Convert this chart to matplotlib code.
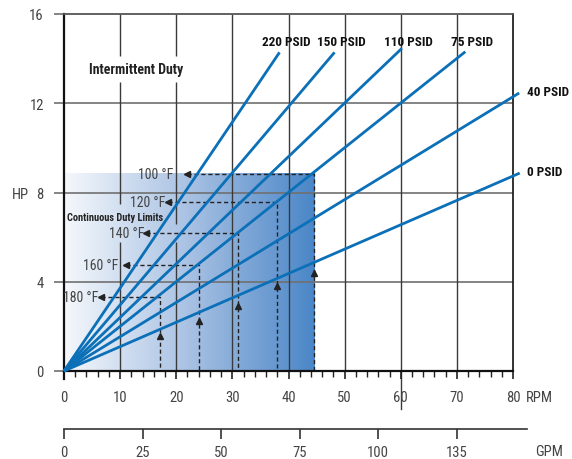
import numpy as np
import matplotlib
matplotlib.use('Agg')
from matplotlib import pyplot as plt
from matplotlib.colors import LinearSegmentedColormap

plt.rcParams['font.family'] = ['Roboto Condensed', 'DejaVu Sans']
plt.rcParams['font.stretch'] = 'condensed'

# pressure lines: end point of each line (rpm, hp), all start at origin
psid_labels = ['220 PSID', '150 PSID', '110 PSID', '75 PSID', '40 PSID', '0 PSID']
psid_end_rpm = [38.4, 48.2, 60.2, 71.5, 81.1, 81.2]
psid_end_hp = [14.28, 14.28, 14.46, 14.31, 12.46, 8.87]

# continuous duty limits per oil temperature
temp_labels = ['100 \u00b0F', '120 \u00b0F', '140 \u00b0F', '160 \u00b0F', '180 \u00b0F']
temp_hp = [8.85, 7.58, 6.17, 4.75, 3.30]
temp_rpm = [44.6, 38.0, 31.0, 24.1, 17.1]
temp_arrow_rpm = [22.0, 18.6, 14.6, 11.0, 6.6]
temp_label_rpm = [19.4, 18.1, 14.3, 9.7, 6.2]
temp_up_hp = [4.4, 3.82, 2.93, 2.26, 1.58]

rpm_ticks = [0, 10, 20, 30, 40, 50, 60, 70, 80]
hp_ticks = [0, 4, 8, 12, 16]
gpm_ticks = [0, 25, 50, 75, 100, 125]
gpm_labels = ['0', '25', '50', '75', '100', '135']

blue = '#0b70b7'
W, H = 572, 460
fig = plt.figure(figsize=(W / 100, H / 100), dpi=100)
ax = fig.add_axes([64 / W, 1 - 372 / H, (513 - 64) / W, (372 - 15) / H])
ax.set_xlim(0, 80)
ax.set_ylim(0, 16)

# shaded continuous duty area
cmap = LinearSegmentedColormap.from_list('duty', ['#f5f8fc', '#a8c1e3', '#4a86c7'])
ax.imshow(np.linspace(0, 1, 256).reshape(1, -1), cmap=cmap, aspect='auto',
          extent=[0, temp_rpm[0], 0, temp_hp[0]], zorder=0.5)

# grid
for y in hp_ticks[1:-1]:
    ax.axhline(y, color='#707070', lw=1.2, zorder=1)
gaps = {10: [(5.8, 7.5), (12.95, 14.1)], 20: [(5.8, 6.6), (12.95, 14.1)]}
for x in rpm_ticks[1:-1]:
    edges = [0]
    for a, b in gaps.get(x, []):
        edges += [a, b]
    edges.append(16)
    for i in range(0, len(edges), 2):
        ax.plot([x, x], [edges[i], edges[i + 1]], color='#3a3a3a', lw=1.0, zorder=1,
                solid_capstyle='butt')
# odd long tick at 60 below the axis
ax.plot([60, 60], [0, -1.7], color='#3a3a3a', lw=1.0, clip_on=False, zorder=1)

# temperature limit dashed lines with arrows
for lab, hp, rpm, arx, lx, uph in zip(temp_labels, temp_hp, temp_rpm, temp_arrow_rpm,
                                      temp_label_rpm, temp_up_hp):
    ax.plot([arx, rpm, rpm], [hp, hp, 0], color='#222222', lw=1.0, dashes=(3, 2), zorder=2)
    ax.plot(arx, hp, marker='<', color='#222222', ms=4, zorder=2)
    ax.plot(rpm, uph, marker='^', color='#222222', ms=4, zorder=2)
    ax.text(lx, hp, lab, ha='right', va='center', fontsize=10, color='#444444')

# pressure lines
for lab, x1, y1 in zip(psid_labels, psid_end_rpm, psid_end_hp):
    ax.plot([0, x1], [0, y1], color=blue, lw=2.0, zorder=3, clip_on=False,
            solid_capstyle='butt')
for lab, x1, y1 in zip(psid_labels[:4], psid_end_rpm[:4], psid_end_hp[:4]):
    ax.text(x1 + 1.2, 14.75, lab, ha='center', va='center', fontsize=9.5,
            fontweight='bold', color='#111111')
for lab, x1, y1 in zip(psid_labels[4:], psid_end_rpm[4:], psid_end_hp[4:]):
    ax.text(82.5, y1 + 0.05, lab, ha='left', va='center', fontsize=9.5,
            fontweight='bold', color='#111111', clip_on=False)

ax.text(12.9, 13.55, 'Intermittent Duty', ha='center', va='center', fontsize=10,
        fontweight='bold', color='#222222')
ax.text(0.5, 6.92, 'Continuous Duty Limits', ha='left', va='center', fontsize=7.5,
        fontweight='bold', color='#222222')

# axes styling
for s in ['left', 'bottom']:
    ax.spines[s].set_color('#111111')
    ax.spines[s].set_linewidth(1.6)
ax.spines['right'].set_color('#222222')
ax.spines['right'].set_linewidth(1.3)
ax.spines['top'].set_color('#555555')
ax.spines['top'].set_linewidth(1.3)
ax.spines['left'].set_bounds(-0.35, 16)

ax.set_xticks(rpm_ticks)
ax.set_xticks(np.arange(0, 81, 2), minor=True)
ax.set_yticks(hp_ticks)
ax.tick_params(axis='x', which='major', direction='out', length=6, width=1.2,
               color='#222222', labelsize=10.5, labelcolor='#444444', pad=8)
ax.tick_params(axis='x', which='minor', direction='out', length=4, width=1.0,
               color='#222222')
ax.tick_params(axis='y', direction='out', length=7.5, width=1.2, color='#707070',
               labelsize=10.5, labelcolor='#444444', pad=7)

fig.text(526 / W, 1 - 398 / H, 'RPM', ha='left', va='center', fontsize=10.5, color='#444444')
fig.text(12 / W, 1 - 195 / H, 'HP', ha='left', va='center', fontsize=10.5, color='#444444')

# GPM scale
ax2 = fig.add_axes([64 / W, 1 - 430 / H, (527 - 64) / W, 0.0001])
ax2.set_xlim(0, 82.5 * 25 / 14)
for s in ['left', 'right', 'top']:
    ax2.spines[s].set_visible(False)
ax2.spines['bottom'].set_color('#333333')
ax2.spines['bottom'].set_linewidth(1.2)
ax2.set_yticks([])
ax2.set_xticks(gpm_ticks)
ax2.set_xticklabels(gpm_labels)
ax2.tick_params(axis='x', direction='out', length=7.5, width=1.2, color='#333333',
                labelsize=10.5, labelcolor='#444444', pad=4)
fig.text(535 / W, 1 - 452 / H, 'GPM', ha='left', va='center', fontsize=10.5, color='#444444')

fig.savefig('out.png', dpi=100)
